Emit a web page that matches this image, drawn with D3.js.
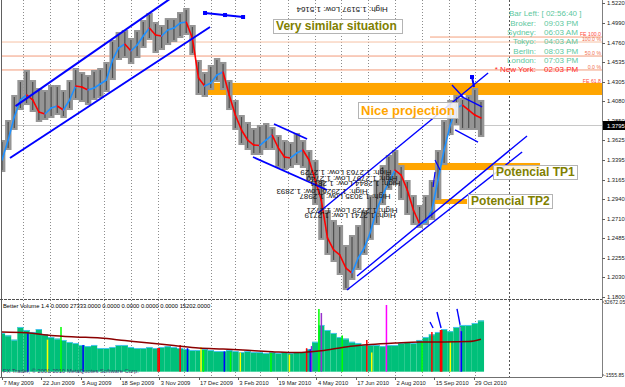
<!DOCTYPE html>
<html>
<head>
<meta charset="utf-8">
<script src="https://cdn.jsdelivr.net/npm/d3@7"></script>
<style>
body{margin:0;background:#fff;}
svg{display:block;font-family:"Liberation Sans",Arial,sans-serif;}
</style>
</head>
<body>
<script>

// price bars, one group of 5 daily bars per entry (group w sits at bar 5*w)
var weekHigh = [1.3626,1.3859,1.4150,1.4324,1.4441,1.4324,1.4231,1.4208,1.4266,1.4266,
  1.4208,1.4324,1.4464,1.4417,1.4382,1.4441,1.4464,1.4534,1.4790,1.4883,
  1.4906,1.4813,1.4906,1.5022,1.5104,1.4999,1.4964,1.5045,1.5045,1.5115,
  1.5162,1.4964,1.4557,1.4417,1.4499,1.4580,1.4534,1.4324,1.4092,1.3917,
  1.3836,1.3766,1.3801,1.3824,1.3777,1.3684,1.3626,1.3603,1.3708,1.3626,
  1.3510,1.3394,1.3161,1.2812,1.2696,1.2637,1.2405,1.2521,1.2637,1.2812,
  1.2986,1.3161,1.3335,1.3452,1.3510,1.3335,1.3161,1.2986,1.2870,1.2986,
  1.3161,1.3510,1.3859,1.4092,1.4150,1.4115,1.4150,1.4231,1.4092];
var weekLow = [1.3254,1.3510,1.3743,1.3975,1.4033,1.3952,1.3836,1.3859,1.3882,1.3917,
  1.3882,1.3975,1.4092,1.4068,1.4033,1.4092,1.4115,1.4185,1.4324,1.4557,
  1.4580,1.4510,1.4580,1.4697,1.4790,1.4638,1.4673,1.4731,1.4766,1.4813,
  1.4848,1.4615,1.4150,1.4127,1.4208,1.4301,1.4208,1.3975,1.3743,1.3568,
  1.3510,1.3452,1.3452,1.3510,1.3510,1.3301,1.3277,1.3301,1.3335,1.3301,
  1.3161,1.2870,1.2464,1.2289,1.2207,1.2056,1.1881,1.1998,1.2114,1.2289,
  1.2464,1.2637,1.2870,1.3045,1.3103,1.2928,1.2754,1.2637,1.2603,1.2637,
  1.2696,1.2928,1.3335,1.3684,1.3801,1.3743,1.3743,1.3743,1.3661];
// the red/blue moving average
var weekMA = [1.3394,1.3626,1.3894,1.4092,1.4150,1.4092,1.3952,1.3929,1.3999,1.4022,
  1.3975,1.4092,1.4254,1.4243,1.4208,1.4231,1.4278,1.4324,1.4557,1.4697,
  1.4743,1.4662,1.4731,1.4836,1.4929,1.4848,1.4836,1.4906,1.4929,1.4987,
  1.4999,1.4813,1.4348,1.4254,1.4289,1.4382,1.4417,1.4150,1.3917,1.3743,
  1.3626,1.3568,1.3563,1.3626,1.3684,1.3533,1.3429,1.3417,1.3475,1.3510,
  1.3394,1.3161,1.2928,1.2487,1.2347,1.2289,1.2137,1.2079,1.2254,1.2370,
  1.2556,1.2812,1.2986,1.3138,1.3277,1.3219,1.3045,1.2812,1.2649,1.2672,
  1.2812,1.3161,1.3510,1.3801,1.3999,1.4033,1.3975,1.3917,1.3882];
var weekVol = [18150,17000,15000,20960,19550,18615,20000,17500,16270,15500,
  14865,13925,13460,12520,12000,12520,11110,11110,11580,12520,
  12520,11580,11110,11110,11580,11110,11580,12000,11580,11110,
  10645,10175,10175,10645,10175,9700,9700,10175,9700,9235,
  9700,9235,9235,8770,9235,8770,9235,8770,9235,9235,
  10645,14000,21900,19550,18150,16270,15500,14000,13460,12520,
  12520,12520,12000,12520,12520,13460,13925,13460,14865,16270,
  17500,18615,20000,19000,20960,21900,21900,22835,24000];
var volMAWeeks = [0,4,8,12,16,20,24,28,32,36,40,44,48,52,56,60,64,68,72,76,78];
var volMA = [18615,18300,17000,16300,15800,14600,13400,12300,11110,10600,10000,9400,8950,9800,11600,12700,13400,13900,13900,14100,15200];
// coloured single-day volume bars (bar index, volume, colour)
var spikeIdx = [21,37,48,66,127,128,145,151,162,164,181,186,194,219,234,248,251,252,258,260,277,297,301,313,342,350,357,358,365,373,374];
var spikeVol = [18000,15000,20960,12500,11110,11110,12500,11000,11500,10000,9500,9000,9000,8800,8000,11000,10500,12000,29400,27500,17000,14865,9000,31275,14000,18615,19550,19550,14000,20960,19000];
var spikeCol = ["#0000ff","#ffff00","#00ff00","#0000ff","#ff0000","#ff0000","#ff0000","#0000ff","#ffff00","#00ff00","#0000ff","#00ff00","#ffff00","#00ff00","#ffff00","#ff0000","#0000ff","#8a2be2","#00ff00","#9932cc","#00ff00","#ff0000","#ffff00","#ff00ff","#00ff00","#ff0000","#ff0000","#ff0000","#ffff00","#9370db","#0000ff"];

var priceTicks = [1.5220,1.4990,1.4760,1.4535,1.4305,1.4080,1.3850,1.3625,1.3395,1.3165,1.2940,1.2710,1.2485,1.2255,1.2030,1.1800];
var bid = 1.3795;
var holidays = ["2009-12-25","2010-01-01"];

var fibLevels = [1.4766,1.4603,1.4441];
var fibLabels = ["100.0 %","50.0 %","0.0 %"];
var feLevels = [1.4824,1.4278];
var feLabels = ["FE 100.0","FE 61.8"];

// drawing objects in bar index / price
var trendLines = [
  [11,1.4020,138,1.5280,2],[6.5,1.3417,169.4,1.4941,2],[165.3,1.5104,196.3,1.5057,2],
  [221.5,1.3812,248.4,1.3638,1.8],[204.4,1.3428,264.7,1.3045,1.8],
  [257.3,1.2777,395.8,1.4406,1.4],[289.1,1.2044,427.5,1.3673,1.4],[280.9,1.1881,423.5,1.3487,1.4],
  [366.4,1.4266,375.4,1.4127,1.4],[373,1.4139,390.9,1.4011,1.4],[382.7,1.4359,384.4,1.4243,2],
  [368.9,1.3743,387.6,1.3603,1.4],[352.6,1.3394,356.7,1.3277,1.2],[352.6,1.3254,351,1.3080,1.2]];
var markers = [[165.3,1.5104],[181.6,1.5080],[196.3,1.5057],[382.7,1.4359]];
var volLines = [[348.5,23300,351,20500],[354.2,28000,357.5,20500],[370.5,29400,373,21900]];
var bands = [[159.6,490,1.4150,1.4290],[322.5,438.1,1.3277,1.3359],[342.8,378.7,1.2882,1.2940]];
var notes = [
  {t:"Very similar situation", i:220.7, p:1.5034, w:129, h:14, c:"#808000", s:12},
  {t:"Nice projection", i:289.9, p:1.4069, w:100, h:16, c:"#ffa500", s:13},
  {t:"Potencial TP1", i:399.8, p:1.3336, w:84, h:14, c:"#808000", s:12},
  {t:"Potencial TP2", i:379.5, p:1.2998, w:84, h:14, c:"#808000", s:12}];
var flipped = [
  {t:"High: 1.5197 Low: 1.5164", i:276.9, p:1.5139},
  {t:"High: 1.2763 Low: 1.2729", i:280.1, p:1.3242},
  {t:"High: 1.2797 Low: 1.2740", i:285.0, p:1.3173},
  {t:"High: 1.2844 Low: 1.2811", i:287.5, p:1.3115},
  {t:"High: 1.2926 Low: 1.2893", i:260.6, p:1.3021},
  {t:"High: 1.3035 Low: 1.2987", i:279.3, p:1.2963},
  {t:"High: 1.2729 Low: 1.2721", i:285.0, p:1.2800},
  {t:"High: 1.2741 Low: 1.2719", i:283.4, p:1.2742}];

var infoLabels = ["Broker:","Sydney:","Tokyo:","Berlin:","London:","* New York:"];
var infoTimes = ["09:03 PM","06:03 AM","04:03 AM","08:03 PM","07:03 PM","02:03 PM"];

var W = 625, H = 387;
var axisX = 602, mainBottom = 299, volBottom = 377;
var lastBar = 392;

var x = d3.scaleLinear().domain([0, 384]).range([2, 473.6]);
var y = d3.scaleLinear().domain([1.18, 1.522]).range([297, 3]);
var yv = d3.scaleLinear().domain([-1555.85, 32672.05]).range([375, 302]);

// trading days (weekdays without the two holidays)
var fmtKey = d3.timeFormat("%Y-%m-%d");
var fmtDay = d3.timeFormat("%-d %b %Y");
var days = d3.timeDay.range(new Date(2009,4,7), new Date(2010,11,31)).filter(function(d){
  var wd = d.getDay();
  return wd !== 0 && wd !== 6 && holidays.indexOf(fmtKey(d)) < 0;
});
var monthStarts = d3.range(1, lastBar + 1).filter(function(i){ return days[i].getMonth() !== days[i-1].getMonth(); });

var svg = d3.select("body").append("svg").attr("width", W).attr("height", H);
svg.append("rect").attr("width", W).attr("height", H).attr("fill", "#fff");

var defs = svg.append("defs");
defs.append("clipPath").attr("id","mainClip").append("rect").attr("x",2).attr("y",0).attr("width",axisX-2).attr("height",mainBottom);
defs.append("clipPath").attr("id","volClip").append("rect").attr("x",2).attr("y",mainBottom+1).attr("width",axisX-2).attr("height",volBottom-mainBottom-1);

//GRID
svg.selectAll("line.grid").data(monthStarts).join("line")
  .attr("x1", function(i){return Math.round(x(i))+0.5;}).attr("x2", function(i){return Math.round(x(i))+0.5;})
  .attr("y1", 0).attr("y2", volBottom)
  .attr("stroke", "#8c8c8c").attr("stroke-dasharray", "1,2");
svg.append("line").attr("x1", Math.round(x(413))+0.5).attr("x2", Math.round(x(413))+0.5)
  .attr("y1", 0).attr("y2", volBottom).attr("stroke", "#555").attr("stroke-dasharray", "2,2");

var main = svg.append("g").attr("clip-path", "url(#mainClip)");

// bid line
main.append("line").attr("x1", 0).attr("x2", axisX).attr("y1", y(bid)).attr("y2", y(bid)).attr("stroke", "#c8c8c8");

// fibo levels
main.selectAll("line.fib").data(fibLevels).join("line")
  .attr("x1", 0).attr("x2", axisX).attr("y1", function(d){return y(d);}).attr("y2", function(d){return y(d);})
  .attr("stroke", function(d,k){return k === 0 ? "#f6c2a4" : "#f29a7a";});
main.selectAll("line.fe").data(feLevels).join("line")
  .attr("x1", x(348.5)).attr("x2", axisX).attr("y1", function(d){return y(d);}).attr("y2", function(d){return y(d);})
  .attr("stroke", function(d,k){return k === 0 ? "#f4a07c" : "#ff4040";});

// orange zones
main.selectAll("rect.band").data(bands).join("rect")
  .attr("x", function(b){return x(b[0]);}).attr("width", function(b){return x(b[1]) - x(b[0]);})
  .attr("y", function(b){return y(b[3]);}).attr("height", function(b){return y(b[2]) - y(b[3]);})
  .attr("fill", "#ffa500");

//PRICE BARS
var weeks = d3.range(weekHigh.length);
var bw = x(5) - x(0);
main.selectAll("rect.wk").data(weeks).join("rect")
  .attr("x", function(w){return x(5*w) - bw/2;}).attr("width", bw + 0.3)
  .attr("y", function(w){return y(weekHigh[w]);})
  .attr("height", function(w){return y(weekLow[w]) - y(weekHigh[w]);})
  .attr("fill", "#959595");
main.selectAll("line.wk").data(weeks).join("line")
  .attr("x1", function(w){return x(5*w);}).attr("x2", function(w){return x(5*w);})
  .attr("y1", function(w){return y(weekHigh[w]) + 2;}).attr("y2", function(w){return y(weekLow[w]) - 2;})
  .attr("stroke", "#4e4e4e").attr("stroke-width", 1.2);

// moving average, blue rising / red falling
main.selectAll("line.ma").data(d3.range(1, weekMA.length)).join("line")
  .attr("x1", function(w){return x(5*(w-1));}).attr("y1", function(w){return y(weekMA[w-1]);})
  .attr("x2", function(w){return x(5*w);}).attr("y2", function(w){return y(weekMA[w]);})
  .attr("stroke", function(w){return weekMA[w] > weekMA[w-1] ? "#1e90ff" : "#ff0000";})
  .attr("stroke-width", 1.6).attr("stroke-linecap", "round");

// trend lines
main.selectAll("line.tl").data(trendLines).join("line")
  .attr("x1", function(l){return x(l[0]);}).attr("y1", function(l){return y(l[1]);})
  .attr("x2", function(l){return x(l[2]);}).attr("y2", function(l){return y(l[3]);})
  .attr("stroke", "#0000ff").attr("stroke-width", function(l){return l[4];});
main.selectAll("rect.mk").data(markers).join("rect")
  .attr("x", function(m){return x(m[0]) - 2;}).attr("y", function(m){return y(m[1]) - 2;})
  .attr("width", 4).attr("height", 4).attr("fill", "#0000ff");

// flipped high/low texts
main.selectAll("text.flip").data(flipped).join("text")
  .attr("x", function(f){return x(f.i);}).attr("y", function(f){return y(f.p) + 3;})
  .attr("transform", function(f){return "rotate(180," + x(f.i) + "," + y(f.p) + ")";})
  .attr("text-anchor", "middle").attr("font-size", 8).attr("fill", "#111")
  .text(function(f){return f.t;});

// note boxes
var note = main.selectAll("g.note").data(notes).join("g");
note.append("rect")
  .attr("x", function(n){return Math.round(x(n.i)) + 0.5;}).attr("y", function(n){return Math.round(y(n.p)) + 0.5;})
  .attr("width", function(n){return n.w;}).attr("height", function(n){return n.h;})
  .attr("fill", "#fff").attr("fill-opacity", 0.85).attr("stroke", "#b4b4b4");
note.append("text")
  .attr("x", function(n){return x(n.i) + 3;}).attr("y", function(n){return y(n.p) + n.h - 3;})
  .attr("font-size", function(n){return n.s;}).attr("font-weight", "bold")
  .attr("fill", function(n){return n.c;}).text(function(n){return n.t;});

// fibo labels
main.selectAll("text.fib").data(fibLevels).join("text")
  .attr("x", axisX - 1).attr("y", function(d){return y(d) - 1;}).attr("text-anchor", "end")
  .attr("font-size", 5.2).attr("fill", "#f07050").text(function(d,k){return fibLabels[k];});
main.selectAll("text.fe").data(feLevels).join("text")
  .attr("x", axisX - 1).attr("y", function(d){return y(d) - 1;}).attr("text-anchor", "end")
  .attr("font-size", 5.2).attr("fill", "#ff4a3a").text(function(d,k){return feLabels[k];});

// info panel
var info = svg.append("g").attr("font-size", 8);
info.append("text").attr("x", 509).attr("y", 16).attr("fill", "#5cc89e").text("Bar Left: [ 02:56:40 ]");
info.selectAll("text.lab").data(infoLabels).join("text")
  .attr("x", 536).attr("y", function(d,k){return 25.7 + k*9.3;}).attr("text-anchor", "end")
  .attr("fill", function(d,k){return k === 5 ? "#ff2a2a" : "#5cc89e";}).text(function(d){return d;});
info.selectAll("text.tim").data(infoTimes).join("text")
  .attr("x", 544).attr("y", function(d,k){return 25.7 + k*9.3;})
  .attr("fill", function(d,k){return k === 5 ? "#ff2a2a" : "#5cc89e";}).text(function(d){return d;});

//VOLUME PANEL
var vol = svg.append("g").attr("clip-path", "url(#volClip)");
vol.selectAll("rect.vb").data(weeks).join("rect")
  .attr("x", function(w){return x(5*w) - bw/2;}).attr("width", bw)
  .attr("y", function(w){return yv(weekVol[w]);})
  .attr("height", function(w){return yv(0) - yv(weekVol[w]);})
  .attr("fill", "#00c07a");
vol.selectAll("line.vt").data(weeks).join("line")
  .attr("x1", function(w){return x(5*w) - bw/2;}).attr("x2", function(w){return x(5*w) + bw/2;})
  .attr("y1", function(w){return yv(weekVol[w]) + 0.5;}).attr("y2", function(w){return yv(weekVol[w]) + 0.5;})
  .attr("stroke", "#48c4ee");
vol.selectAll("rect.sp").data(spikeIdx).join("rect")
  .attr("x", function(i){return x(i) - 0.7;}).attr("width", 1.5)
  .attr("y", function(i,k){return yv(spikeVol[k]);})
  .attr("height", function(i,k){return yv(0) - yv(spikeVol[k]);})
  .attr("fill", function(i,k){return spikeCol[k];});
vol.append("path")
  .attr("d", d3.line().curve(d3.curveMonotoneX)
    .x(function(w){return x(5*w);}).y(function(w,k){return yv(volMA[k]);})(volMAWeeks))
  .attr("fill", "none").attr("stroke", "#8b0000").attr("stroke-width", 1.5);
vol.selectAll("line.vl").data(volLines).join("line")
  .attr("x1", function(l){return x(l[0]);}).attr("y1", function(l){return yv(l[1]);})
  .attr("x2", function(l){return x(l[2]);}).attr("y2", function(l){return yv(l[3]);})
  .attr("stroke", "#0000ff").attr("stroke-width", 1.4);

svg.append("text").attr("x", 3).attr("y", 308).attr("font-size", 5.8).attr("fill", "#000")
  .text("Better Volume 1.4 0.0000 27333.0000 0.0000 0.0000 0.0000 0.0000 15202.0000");
svg.append("text").attr("x", 3).attr("y", 373).attr("font-size", 5.8).attr("fill", "#3c3c6e")
  .text("FX Trader, \u00a9 2001-2010 MetaQuotes Software Corp.");

//FRAME AND AXES
svg.append("line").attr("x1", 1.5).attr("x2", 1.5).attr("y1", 0).attr("y2", volBottom).attr("stroke", "#606060");
svg.append("line").attr("x1", 0).attr("x2", axisX).attr("y1", mainBottom + 0.5).attr("y2", mainBottom + 0.5).attr("stroke", "#505050").attr("stroke-dasharray", "3,1");
svg.append("line").attr("x1", 0).attr("x2", axisX).attr("y1", volBottom + 0.5).attr("y2", volBottom + 0.5).attr("stroke", "#707070");
svg.append("line").attr("x1", axisX + 0.5).attr("x2", axisX + 0.5).attr("y1", 0).attr("y2", volBottom).attr("stroke", "#808080");

var pAxis = svg.append("g").attr("font-size", 5.8).attr("fill", "#202020");
pAxis.selectAll("line").data(priceTicks).join("line")
  .attr("x1", axisX).attr("x2", axisX + 3)
  .attr("y1", function(t){return Math.round(y(t)) + 0.5;}).attr("y2", function(t){return Math.round(y(t)) + 0.5;})
  .attr("stroke", "#606060");
pAxis.selectAll("text").data(priceTicks).join("text")
  .attr("x", axisX + 5).attr("y", function(t){return y(t) + 2;})
  .text(function(t){return t.toFixed(4);});

// current price box
svg.append("rect").attr("x", axisX + 1).attr("y", y(bid) - 4.5).attr("width", W - axisX - 1).attr("height", 9).attr("fill", "#000");
svg.append("text").attr("x", axisX + 5).attr("y", y(bid) + 2).attr("font-size", 5.8).attr("fill", "#fff").text(bid.toFixed(4));

// volume axis
var vTicks = [32672.05, -1555.85];
svg.selectAll("text.vax").data(vTicks).join("text")
  .attr("x", axisX + 2).attr("y", function(v){return yv(v) + 2;})
  .attr("font-size", 5.1).attr("fill", "#202020").text(function(v){return v.toFixed(2);});
svg.selectAll("line.vax").data(vTicks).join("line")
  .attr("x1", axisX).attr("x2", axisX + 2).attr("y1", function(v){return yv(v);}).attr("y2", function(v){return yv(v);})
  .attr("stroke", "#606060");

// date axis
var dateIdx = d3.range(0, 385, 32);
svg.selectAll("line.dt").data(dateIdx).join("line")
  .attr("x1", function(i){return Math.round(x(i)) + 0.5;}).attr("x2", function(i){return Math.round(x(i)) + 0.5;})
  .attr("y1", volBottom).attr("y2", volBottom + 3).attr("stroke", "#606060");
svg.selectAll("text.dt").data(dateIdx).join("text")
  .attr("x", function(i){return x(i) + 1.5;}).attr("y", 385)
  .attr("font-size", 5.8).attr("fill", "#202020")
  .text(function(i){return fmtDay(days[i]);});

</script>
</body>
</html>
